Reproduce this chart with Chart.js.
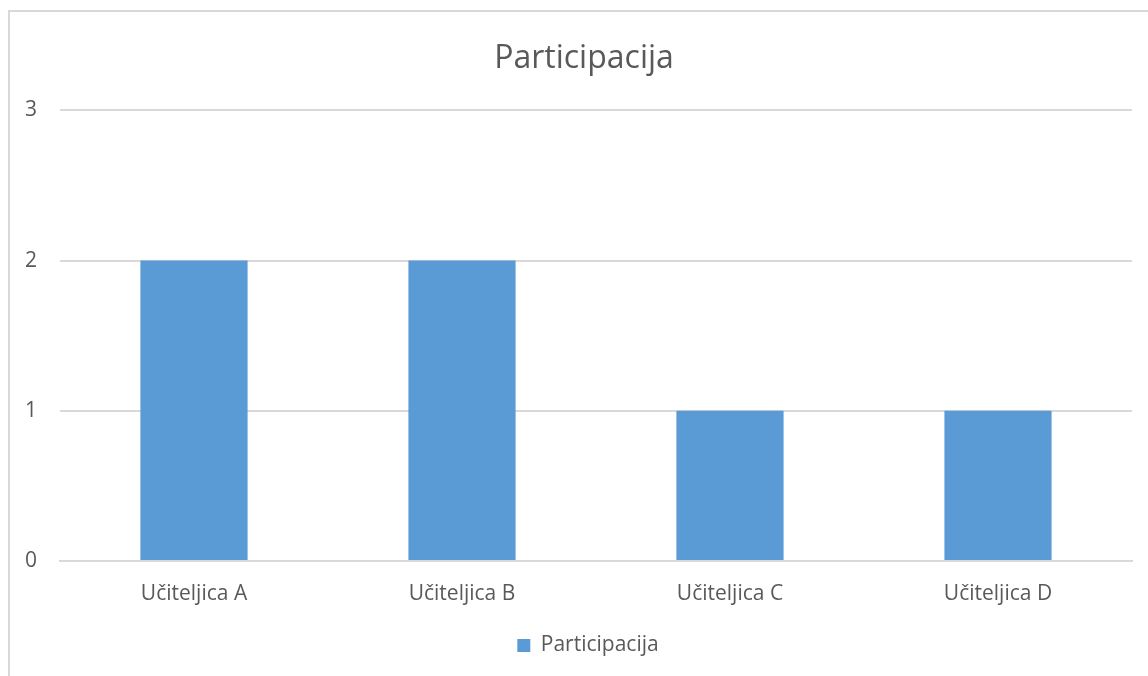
<!DOCTYPE html>
<html>
<head>
<meta charset="utf-8">
<script src="https://cdn.jsdelivr.net/npm/chart.js@4"></script>
<style>
  html, body { margin: 0; padding: 0; background: #fff; }
  #frame {
    position: absolute; left: 8px; top: 10px; width: 1200px; height: 700px;
    border-left: 2px solid #d9d9d9; border-top: 2px solid #d9d9d9;
  }
  #wrap { position: absolute; left: 0; top: 0; width: 1148px; height: 676px; }
</style>
</head>
<body>
<div id="frame"></div>
<div id="wrap"><canvas id="chart"></canvas></div>
<script>
const categories = ['Učiteljica A', 'Učiteljica B', 'Učiteljica C', 'Učiteljica D'];
const participacija = [2, 2, 1, 1];
const seriesName = 'Participacija';

const font = '"Open Sans", "Noto Sans", sans-serif';
const textColor = '#595959';
const gridColor = '#d9d9d9';

// the original centres title and legend on the whole frame, a bit right of the plot centre
const nudgeBlocks = {
  id: 'nudgeBlocks',
  afterLayout(chart) {
    if (chart.titleBlock) { chart.titleBlock.left += 6; chart.titleBlock.right += 6; }
    if (chart.legend) { chart.legend.left += 10; chart.legend.right += 10; }
  },
};

const ctx = document.getElementById('chart').getContext('2d');
new Chart(ctx, {
  type: 'bar',
  data: {
    labels: categories,
    datasets: [{
      label: seriesName,
      data: participacija,
      backgroundColor: '#5b9bd5',
      categoryPercentage: 1,
      barPercentage: 0.4,
    }],
  },
  options: {
    responsive: true,
    maintainAspectRatio: false,
    animation: false,
    layout: { padding: { top: 0, right: 16, bottom: 10, left: 24 } },
    plugins: {
      title: {
        display: true,
        text: 'Participacija',
        color: textColor,
        font: { family: font, size: 32, weight: 'normal' },
        padding: { top: 40, bottom: 32 },
      },
      legend: {
        position: 'bottom',
        labels: {
          color: textColor,
          font: { family: font, size: 21 },
          boxWidth: 13,
          boxHeight: 13,
          padding: 10,
        },
      },
      tooltip: { enabled: false },
    },
    scales: {
      x: {
        grid: { display: false, drawTicks: false },
        border: { display: true, color: gridColor, width: 2 },
        ticks: { color: textColor, font: { family: font, size: 21 }, padding: 20 },
        afterFit: (s) => { s.height = 64; },
      },
      y: {
        min: 0,
        max: 3,
        ticks: { stepSize: 1, color: textColor, font: { family: font, size: 21 }, padding: 23 },
        grid: { color: gridColor, lineWidth: 2, drawTicks: false },
        border: { display: false },
        afterFit: (s) => { s.width = 36; },
      },
    },
  },
  plugins: [nudgeBlocks],
});
</script>
</body>
</html>
